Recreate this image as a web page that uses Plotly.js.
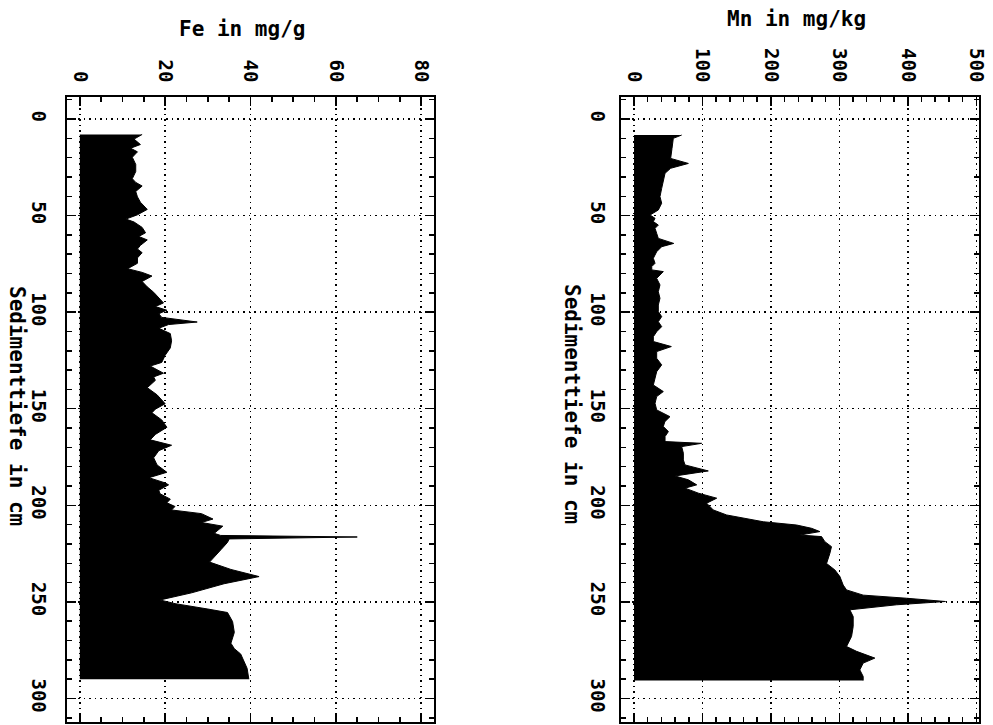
<!DOCTYPE html>
<html>
<head>
<meta charset="utf-8">
<script src="https://cdn.plot.ly/plotly-3.0.1.min.js"></script>
<style>html,body{margin:0;padding:0;background:#fff;}#chart{width:993px;height:725px;}</style>
</head>
<body>
<div id="chart"></div>
<script>
// Tick values
const feTicks = [0, 20, 40, 60, 80];
const mnTicks = [0, 100, 200, 300, 400, 500];
const depthTicks = [0, 50, 100, 150, 200, 250, 300];

// Fe profile (depth in cm, Fe in mg/g)
const feDepth = [8, 10.4, 13.2, 15.1, 17.0, 19.8, 23.5, 27.2, 30.9, 32.8, 34.7, 37.5, 40.3, 43.1, 46.8, 49.6, 51.8, 53.3, 56.1, 58.9, 60.8, 62.6, 65.4, 67.3, 69.2, 71.9, 74.7, 77.5, 79.4, 81.3, 84.1, 86.9, 89.7, 92.4, 95.2, 97.1, 99.0, 100.8, 102.7, 105.1, 106.4, 108.3, 111.1, 114.8, 118.5, 122.3, 126.0, 127.9, 131.6, 133.5, 135.3, 139.1, 142.8, 147.4, 150.2, 152.1, 155.8, 159.6, 163.3, 166.1, 168.9, 171.7, 175.4, 179.1, 182.9, 185.7, 188.4, 189.4, 192.2, 194.0, 196.8, 198.7, 200.6, 202.4, 204.3, 207.1, 208.9, 210.8, 214.5, 215.6, 216.4, 217.4, 219.2, 222.9, 226.6, 229.4, 233.2, 236.9, 240.6, 245.3, 249.0, 250.9, 253.7, 255.5, 260.2, 265.8, 271.4, 274.2, 277.0, 280.7, 284.4, 290.0];
const feValue = [14.6, 12.7, 14.2, 11.9, 13.5, 12.3, 13.1, 13.1, 12.3, 13.1, 14.6, 13.1, 13.5, 14.2, 15.8, 13.5, 10.8, 12.7, 14.6, 15.4, 13.8, 15.8, 14.2, 13.5, 14.6, 13.5, 13.5, 11.2, 14.6, 16.9, 14.6, 15.8, 17.3, 18.5, 19.6, 17.7, 20.4, 18.5, 19.2, 27.5, 20.8, 18.5, 21.2, 21.5, 21.2, 20.0, 19.2, 16.5, 19.6, 17.3, 17.7, 15.8, 18.1, 20.0, 17.7, 16.9, 19.2, 20.4, 17.7, 16.5, 21.5, 18.5, 17.3, 18.1, 20.4, 16.2, 20.0, 20.8, 18.5, 18.8, 21.2, 20.4, 22.3, 21.5, 28.5, 31.2, 28.5, 33.5, 31.5, 33.0, 65.0, 35.0, 34.6, 33.1, 31.5, 30.4, 35.4, 42.0, 33.8, 26.2, 18.8, 22.3, 30.0, 34.6, 35.8, 36.2, 35.4, 36.2, 37.7, 38.5, 39.2, 39.6];

// Mn profile (depth in cm, Mn in mg/kg)
const mnDepth = [8.3, 10, 15.2, 20.4, 23, 25.5, 28.1, 31.6, 35.9, 40.2, 43.6, 47.1, 49.7, 51.4, 53.1, 54.9, 56.6, 59.2, 61.8, 64.4, 66.1, 68.7, 72.1, 74.7, 76.4, 78.1, 79.0, 82.5, 85.9, 89.4, 92.8, 96.3, 99.7, 102.3, 104.9, 107.5, 110.1, 112.7, 115.2, 117.8, 120.4, 123.9, 127.3, 130.8, 134.2, 137.7, 141.1, 143.7, 147.2, 150.6, 154.1, 156.7, 159.2, 161.8, 164.4, 167.0, 167.9, 169.6, 173.0, 176.5, 179.1, 182.2, 184.8, 186.8, 189.4, 191.1, 193.7, 196.3, 198.9, 202.4, 205.0, 206.7, 208.5, 210.2, 211.9, 213.6, 215.4, 216.2, 218.8, 221.4, 224.9, 230.1, 233.5, 236.9, 241.3, 243.8, 246.5, 248.1, 249.8, 251.5, 254.1, 257.6, 262.7, 267.9, 273.1, 275.6, 279.1, 281.7, 285.2, 288.6, 290.7];
const mnValue = [69.6, 57.4, 55.5, 53.5, 79.4, 53.5, 45.3, 42.8, 40.4, 37.9, 40.4, 35.5, 23.4, 30.7, 28.2, 35.5, 30.7, 33.1, 35.5, 58.0, 40.4, 33.1, 28.2, 30.7, 25.9, 25.9, 42.8, 33.1, 37.9, 35.5, 37.9, 35.5, 35.5, 40.4, 35.5, 40.4, 33.1, 28.2, 28.2, 54.5, 33.1, 33.1, 40.4, 33.1, 30.7, 28.2, 42.8, 33.1, 30.7, 33.1, 52.5, 45.0, 42.8, 50.2, 45.3, 45.3, 98.8, 69.6, 72.1, 72.1, 74.5, 108.5, 59.9, 79.4, 91.6, 74.5, 94.0, 120.8, 106.1, 115.8, 135.3, 159.6, 188.8, 237.5, 259.4, 271.5, 242.3, 274.0, 278.8, 288.5, 286.1, 281.3, 293.5, 300.8, 305.6, 310.5, 334.8, 398.1, 455.0, 383.5, 315.3, 320.2, 320.2, 317.8, 310.5, 325.1, 351.8, 334.8, 329.9, 334.8, 334.8];

const FONT = "DejaVu Sans Mono, monospace";
const tickFont = {family: FONT, size: 19, color: '#000', weight: 'bold'};
const titleFont = {family: FONT, size: 21, color: '#000', weight: 'bold'};
const DOTS = '1.5px,4px';

function valAxis(domain, range, ticks, minorStep, anchor) {
  return {
    domain: domain, range: range, anchor: anchor, side: 'top',
    tickmode: 'array', tickvals: ticks, ticktext: ticks.map(String),
    tickangle: 90, tickfont: tickFont, ticklabelstandoff: 6,
    ticks: 'inside', ticklen: 9, tickwidth: 1.5, tickcolor: '#000',
    showline: true, linecolor: '#000', linewidth: 2, mirror: 'ticks',
    showgrid: true, gridcolor: '#000', griddash: DOTS, gridwidth: 1.5,
    zeroline: false,
    minor: {dtick: minorStep, tick0: 0, ticks: 'inside', ticklen: 5, tickwidth: 1.5, tickcolor: '#000', showgrid: false}
  };
}
function depthAxis(anchor, standoff) {
  return {
    domain: [0.0041, 0.8662], range: [312.2, -11.4], anchor: anchor,
    tickmode: 'array', tickvals: depthTicks, ticktext: depthTicks.map(String),
    tickangle: 90, tickfont: tickFont, ticklabelstandoff: standoff,
    ticks: 'inside', ticklen: 9, tickwidth: 1.5, tickcolor: '#000',
    showline: true, linecolor: '#000', linewidth: 2, mirror: 'ticks',
    showgrid: true, gridcolor: '#000', griddash: DOTS, gridwidth: 1.5,
    zeroline: false,
    minor: {dtick: 10, tick0: 0, ticks: 'inside', ticklen: 5, tickwidth: 1.5, tickcolor: '#000', showgrid: false}
  };
}

const traces = [
  {x: feValue, y: feDepth, xaxis: 'x', yaxis: 'y', type: 'scatter', mode: 'lines',
   fill: 'tozerox', fillcolor: '#000', line: {color: '#000', width: 1}, hoverinfo: 'x+y'},
  {x: mnValue, y: mnDepth, xaxis: 'x2', yaxis: 'y2', type: 'scatter', mode: 'lines',
   fill: 'tozerox', fillcolor: '#000', line: {color: '#000', width: 1}, hoverinfo: 'x+y'}
];

const layout = {
  width: 993, height: 725,
  margin: {l: 0, r: 0, t: 0, b: 0},
  paper_bgcolor: '#fff', plot_bgcolor: '#fff',
  showlegend: false,
  xaxis: valAxis([0.0675, 0.4371], [-3, 83], feTicks, 5, 'y'),
  yaxis: depthAxis('x', 10),
  xaxis2: valAxis([0.6254, 0.9859], [-19, 504], mnTicks, 20, 'y2'),
  yaxis2: depthAxis('x2', 5),
  annotations: [
    {text: 'Fe in mg/g', xref: 'paper', yref: 'paper', x: 0.2437, y: 0.96, xanchor: 'center', yanchor: 'middle', showarrow: false, font: titleFont},
    {text: 'Mn in mg/kg', xref: 'paper', yref: 'paper', x: 0.8026, y: 0.9738, xanchor: 'center', yanchor: 'middle', showarrow: false, font: titleFont},
    {text: 'Sedimenttiefe in cm', xref: 'paper', yref: 'paper', x: 0.0171, y: 0.44, xanchor: 'center', yanchor: 'middle', textangle: 90, showarrow: false, font: titleFont},
    {text: 'Sedimenttiefe in cm', xref: 'paper', yref: 'paper', x: 0.576, y: 0.4428, xanchor: 'center', yanchor: 'middle', textangle: 90, showarrow: false, font: titleFont}
  ]
};

Plotly.newPlot('chart', traces, layout, {staticPlot: true, displayModeBar: false});
</script>
</body>
</html>
